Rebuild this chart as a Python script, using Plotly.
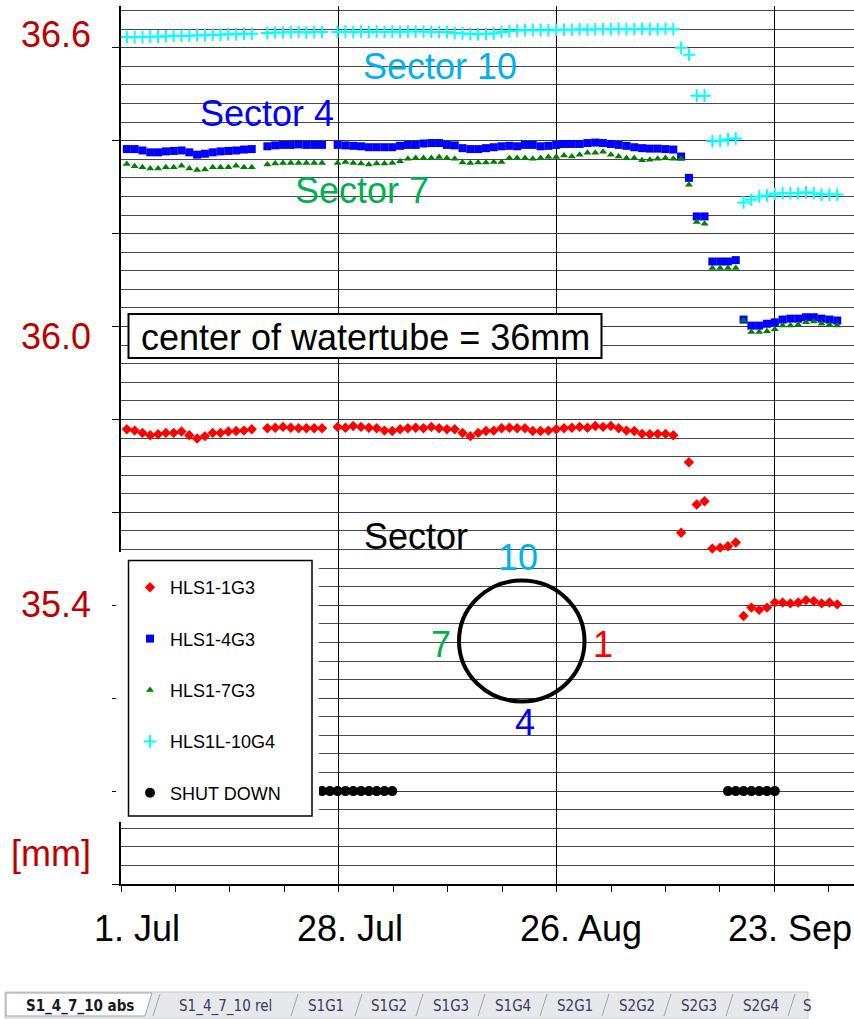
import pandas as pd
import plotly.graph_objects as go

# ---------------- data ----------------
start_date = "2009-07-01 18:00"
n_days = 92
dates = pd.date_range(start_date, periods=n_days, freq="D")

hls1_1g3 = [35.779, 35.776, 35.771, 35.766, 35.768, 35.771, 35.771, 35.774, 35.766, 35.759,
            35.764, 35.771, 35.771, 35.774, 35.775, 35.776, 35.779,
            None,
            35.781, 35.782, 35.784, 35.782, 35.781, 35.781, 35.781, 35.781,
            None,
            35.784, 35.782, 35.786, 35.784, 35.782, 35.781, 35.776, 35.775, 35.779,
            35.781, 35.782, 35.781, 35.784, 35.781, 35.779, 35.779, 35.771, 35.764, 35.771,
            35.775, 35.776, 35.781, 35.782, 35.781, 35.781, 35.775, 35.775, 35.776, 35.779,
            35.781, 35.782, 35.784, 35.782, 35.786, 35.784, 35.786, 35.781, 35.776, 35.775,
            35.769, 35.768, 35.769, 35.769, 35.766,
            35.556, 35.708, 35.617, 35.624, 35.522, 35.524, 35.527, 35.535, 35.377, 35.395,
            35.390, 35.395, 35.406, 35.406, 35.404, 35.406, 35.411, 35.409, 35.404, 35.406,
            35.402]

hls1_4g3 = [36.382, 36.382, 36.379, 36.375, 36.375, 36.377, 36.378, 36.379, 36.375, 36.370,
            36.372, 36.375, 36.377, 36.378, 36.379, 36.381, 36.382,
            None,
            36.388, 36.390, 36.391, 36.391, 36.392, 36.391, 36.391, 36.391,
            None,
            36.391, 36.390, 36.389, 36.388, 36.386, 36.386, 36.386, 36.386, 36.389,
            36.391, 36.391, 36.394, 36.395, 36.395, 36.391, 36.390, 36.384, 36.382, 36.382,
            36.384, 36.386, 36.388, 36.389, 36.388, 36.391, 36.391, 36.388, 36.389, 36.391,
            36.393, 36.393, 36.393, 36.395, 36.396, 36.395, 36.393, 36.391, 36.389, 36.386,
            36.384, 36.383, 36.383, 36.382, 36.381, 36.366,
            36.320, 36.237, 36.237, 36.140, 36.140, 36.140, 36.143, 36.015, 36.002, 36.002,
            36.006, 36.009, 36.015, 36.017, 36.017, 36.020, 36.020, 36.017, 36.015, 36.013]

hls1_7g3 = [36.350, 36.345, 36.343, 36.340, 36.340, 36.343, 36.343, 36.346, 36.340, 36.337,
            36.338, 36.343, 36.343, 36.343, 36.346, 36.343, 36.343,
            None,
            36.349, 36.351, 36.352, 36.352, 36.352, 36.352, 36.352, 36.352,
            None,
            36.352, 36.354, 36.352, 36.351, 36.349, 36.351, 36.351, 36.352, 36.356,
            36.361, 36.363, 36.363, 36.363, 36.365, 36.363, 36.361, 36.353, 36.352, 36.353,
            36.353, 36.354, 36.354, 36.363, 36.363, 36.363, 36.361, 36.363, 36.365, 36.365,
            36.368, 36.366, 36.370, 36.374, 36.374, 36.376, 36.370, 36.366, 36.363, 36.363,
            36.358, 36.359, 36.361, 36.363, 36.361, 36.361,
            36.305, 36.225, 36.221, 36.126, 36.126, 36.126, 36.126, 36.013, 35.988, 35.988,
            35.990, 35.994, 36.002, 36.002, 36.004, 36.009, 36.011, 36.006, 36.004, 36.002]

hls1l_10g4 = [36.623, 36.623, 36.623, 36.624, 36.624, 36.625, 36.626, 36.626, 36.626, 36.627,
              36.627, 36.628, 36.628, 36.629, 36.629, 36.630, 36.630,
              None,
              36.632, 36.633, 36.633, 36.634, 36.634, 36.633, 36.634, 36.634,
              None,
              36.634, 36.635, 36.634, 36.635, 36.634, 36.635, 36.634, 36.635, 36.634, 36.635,
              36.635, 36.635, 36.634, 36.634, 36.634,
              36.632, 36.631, 36.630, 36.629, 36.630, 36.631,
              36.634, 36.636, 36.637, 36.638, 36.638, 36.638, 36.638, 36.639,
              36.639, 36.639, 36.640, 36.639, 36.640, 36.640, 36.640, 36.641,
              36.640, 36.640, 36.641, 36.640, 36.640, 36.641, 36.640,
              36.600, 36.585, 36.497, 36.497, 36.399, 36.400, 36.403, 36.405,
              36.267, 36.273, 36.280, 36.282, 36.286, 36.287, 36.287, 36.287, 36.289, 36.287,
              36.284, 36.284, 36.284]

shutdown_dates = ["2009-07-26 18:00", "2009-07-27 18:00", "2009-07-28 18:00", "2009-07-29 18:00",
                  "2009-07-30 18:00", "2009-07-31 18:00", "2009-08-01 18:00", "2009-08-02 18:00",
                  "2009-08-03 18:00", "2009-08-04 18:00",
                  "2009-09-16 18:00", "2009-09-17 18:00", "2009-09-18 18:00", "2009-09-19 18:00",
                  "2009-09-20 18:00", "2009-09-21 18:00", "2009-09-22 18:00"]
shutdown_values = [35.0] * len(shutdown_dates)

x_tick_dates = ["2009-07-01 00:00", "2009-07-28 21:36", "2009-08-25 19:12", "2009-09-22 16:48"]
x_tick_labels = ["1. Jul", "28. Jul", "26. Aug", "23. Sep"]
y_label_values = [36.6, 36.0, 35.4]
y_label_texts = ["36.6", "36.0", "35.4"]

sector_labels = ["Sector 10", "Sector 4", "Sector 7"]
circle_labels = ["10", "7", "1", "4"]
sheet_tabs = ["S1_4_7_10 abs", "S1_4_7_10 rel", "S1G1", "S1G2", "S1G3", "S1G4",
              "S2G1", "S2G2", "S2G3", "S2G4", "S"]

# ---------------- layout helpers (pixel -> paper) ----------------
W, H = 854, 1019
L, R, T, B = 121, 0, 6, 135
PW, PH = W - L - R, H - T - B


def px(xp):
    return (xp - L) / PW


def py(yp):
    return (H - B - yp) / PH


FONT = "Liberation Sans, Arial, sans-serif"

fig = go.Figure()

series = [
    ("HLS1-1G3", hls1_1g3, dict(symbol="diamond", size=8, color="#FF0000")),
    ("HLS1-4G3", hls1_4g3, dict(symbol="square", size=8, color="#0000FF")),
    ("HLS1-7G3", hls1_7g3, dict(symbol="triangle-up", size=7, color="#008000")),
    ("HLS1L-10G4", hls1l_10g4, dict(symbol="cross-thin", size=9, color="#00FFFF",
                                      line=dict(color="#00FFFF", width=2))),
]
for name, vals, mk in series:
    fig.add_trace(go.Scatter(x=dates, y=vals, mode="markers", name=name, marker=mk,
                             legendgroup=name, cliponaxis=False))

fig.add_trace(go.Scatter(x=pd.to_datetime(shutdown_dates), y=shutdown_values, mode="markers",
                         name="SHUT DOWN", legendgroup="SHUT DOWN",
                         marker=dict(symbol="circle", size=10, color="#000000")))

x_min = pd.Timestamp("2009-07-01 00:00")
px_per_day = 217.8 / 27.9
x_max = x_min + pd.Timedelta(days=PW / px_per_day)
minor_step_ms = 6.975 * 86400000

fig.update_xaxes(
    type="date", range=[x_min, x_max],
    tickmode="array", tickvals=x_tick_dates, ticktext=x_tick_labels,
    showticklabels=False, ticks="outside", ticklen=6, tickcolor="#000", tickwidth=1,
    showgrid=True, gridcolor="#000000", gridwidth=1,
    showline=True, linecolor="#000000", linewidth=1.5, zeroline=False,
    minor=dict(ticks="outside", ticklen=6, tickcolor="#000", tick0=x_min,
               dtick=minor_step_ms, showgrid=False),
)
fig.update_yaxes(
    range=[34.8, 36.69], tickmode="linear", tick0=34.8, dtick=0.2,
    showticklabels=False, ticks="outside", ticklen=7, tickcolor="#000", tickwidth=1,
    showgrid=True, gridcolor="#3c3c3c", gridwidth=1.3,
    minor=dict(dtick=0.04, showgrid=True, gridcolor="#4a4a4a", gridwidth=1.3, ticks=""),
    showline=True, linecolor="#000000", linewidth=1.5, zeroline=False,
)

annotations = []
# red y labels
for v, t, sh in zip(y_label_values, y_label_texts, [13, -10, 1]):
    annotations.append(dict(x=px(93), xref="paper", y=v, yref="y", yshift=sh, text=t,
                            xanchor="right", yanchor="middle", showarrow=False,
                            font=dict(family=FONT, size=36, color="#C00000")))
annotations.append(dict(x=px(93), xref="paper", y=py(853), yref="paper", text="[mm]",
                        xanchor="right", yanchor="middle", showarrow=False,
                        font=dict(family=FONT, size=36, color="#C00000")))
# x labels
for d, t, sh in zip(x_tick_dates, x_tick_labels, [16, 11, 24, 16]):
    annotations.append(dict(x=d, xref="x", y=py(928), yref="paper", xshift=sh, text=t,
                            xanchor="center", yanchor="middle", showarrow=False,
                            font=dict(family=FONT, size=36, color="#000000")))
# sector labels
for t, (cx, cy), col in zip(sector_labels, [(440, 66), (267, 113), (362, 191)],
                            ["#00B0F0", "#0000FF", "#00B050"]):
    annotations.append(dict(x=px(cx), y=py(cy), xref="paper", yref="paper", text=t,
                            xanchor="center", yanchor="middle", showarrow=False,
                            font=dict(family=FONT, size=36, color=col)))
annotations.append(dict(x=px(365), y=py(337), xref="paper", yref="paper",
                        text="center of watertube = 36mm", xanchor="center", yanchor="middle",
                        showarrow=False, font=dict(family=FONT, size=36, color="#000")))
annotations.append(dict(x=px(416), y=py(536), xref="paper", yref="paper", text="Sector",
                        xanchor="center", yanchor="middle", showarrow=False,
                        font=dict(family=FONT, size=36, color="#000")))
for t, (cx, cy), col in zip(circle_labels, [(518, 557), (441, 644), (603, 644), (525, 722)],
                            ["#00B0F0", "#00B050", "#FF0000", "#0000FF"]):
    annotations.append(dict(x=px(cx), y=py(cy), xref="paper", yref="paper", text=t,
                            xanchor="center", yanchor="middle", showarrow=False,
                            font=dict(family=FONT, size=36, color=col)))
# sheet tabs
tab_centers = [80, 225, 326, 389, 451, 513, 575, 637, 699, 761, 807]
for i, (t, cx) in enumerate(zip(sheet_tabs, tab_centers)):
    annotations.append(dict(x=px(cx), y=py(1006), xref="paper", yref="paper",
                            text=("<b>%s</b>" % t) if i == 0 else t,
                            xanchor="center", yanchor="middle", showarrow=False,
                            font=dict(family="DejaVu Sans Condensed, DejaVu Sans", size=15,
                                      color="#1a1a1a" if i == 0 else "#3a3a5a")))

shapes = []
# white area behind legend
shapes.append(dict(type="rect", xref="paper", yref="paper", x0=px(116), x1=px(319),
                   y0=py(822), y1=py(552), fillcolor="#FFFFFF", line=dict(width=0), layer="above"))
shapes.append(dict(type="rect", xref="paper", yref="paper", x0=px(128.5), x1=px(312),
                   y0=py(816), y1=py(560.5), fillcolor="rgba(0,0,0,0)",
                   line=dict(color="#000", width=1.5), layer="above"))
# watertube box
shapes.append(dict(type="rect", xref="paper", yref="paper", x0=px(128.5), x1=px(601.5),
                   y0=py(358), y1=py(314), fillcolor="#FFFFFF",
                   line=dict(color="#000", width=2), layer="above"))
# circle
shapes.append(dict(type="circle", xref="paper", yref="paper", x0=px(459), x1=px(584.5),
                   y0=py(701.5), y1=py(580.5), line=dict(color="#000", width=4), layer="above"))
# sheet tab strip
shapes.append(dict(type="rect", xref="paper", yref="paper", x0=px(5), x1=px(808),
                   y0=py(1019), y1=py(992), fillcolor="#E6E8EC",
                   line=dict(color="#C8CACE", width=1)))
shapes.append(dict(type="path", xref="paper", yref="paper",
                   path="M %f %f L %f %f L %f %f L %f %f Z" % (px(6), py(993), px(152), py(993),
                                                              px(145), py(1016), px(6), py(1016)),
                   fillcolor="#FFFFFF", line=dict(color="#A0A0A0", width=1)))
for sx in [160, 298, 362, 423, 485, 547, 609, 671, 733, 795]:
    shapes.append(dict(type="line", xref="paper", yref="paper", x0=px(sx), y0=py(994),
                       x1=px(sx - 7), y1=py(1016), line=dict(color="#A0A4AA", width=1)))

fig.update_layout(
    width=W, height=H, margin=dict(l=L, r=R, t=T, b=B, pad=0),
    paper_bgcolor="#FFFFFF", plot_bgcolor="#FFFFFF",
    font=dict(family=FONT, color="#000"),
    showlegend=True,
    legend=dict(x=px(130), y=py(569), xanchor="left", yanchor="top",
                bgcolor="rgba(0,0,0,0)", borderwidth=0, tracegroupgap=25,
                traceorder="grouped", font=dict(family=FONT, size=18, color="#000")),
    annotations=annotations, shapes=shapes,
)

fig.write_html("out.html", config={"displayModeBar": False},
               post_script="document.body.style.margin='0';")
